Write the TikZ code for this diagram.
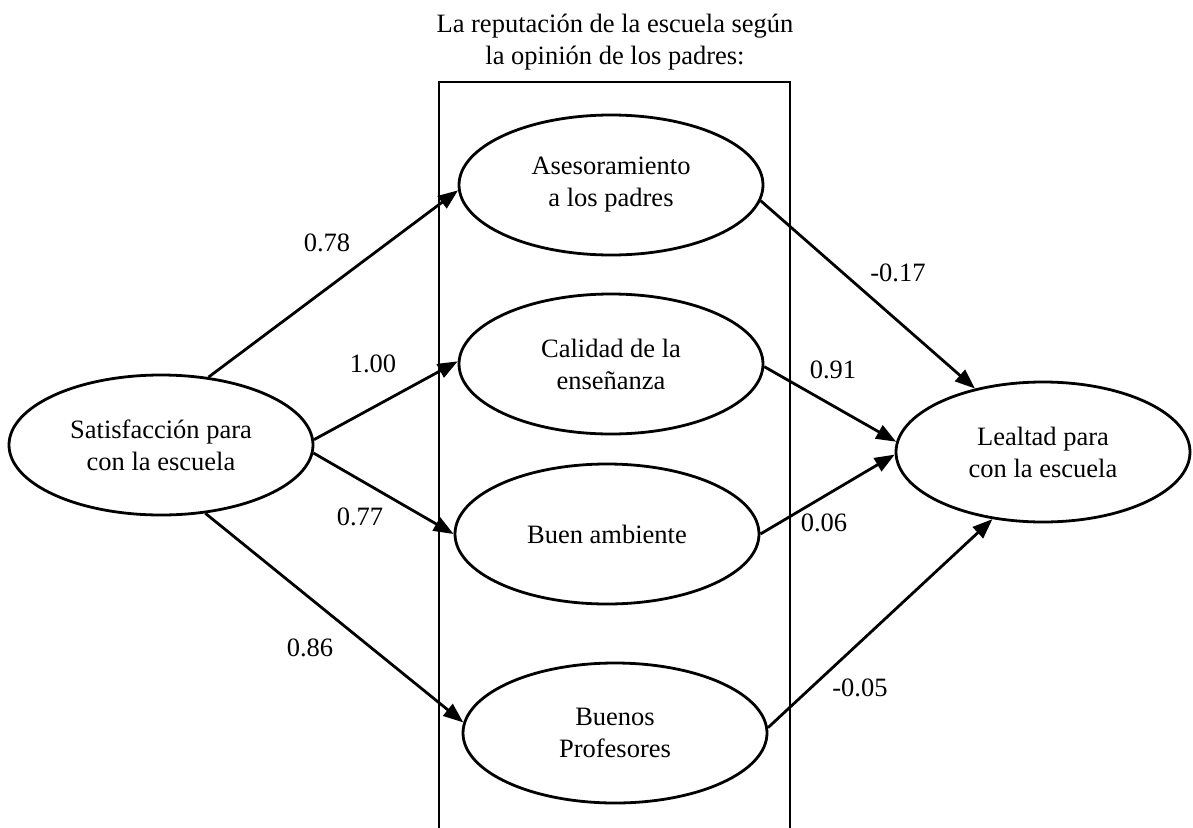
\documentclass[tikz,border=0pt]{standalone}
\usepackage{fontspec}
\setmainfont{Liberation Serif}
\usetikzlibrary{shapes.geometric,arrows.meta}
\begin{document}
\begin{tikzpicture}[x=1pt, y=-1pt,
		factor/.style={ellipse, draw, line width=2.8pt, minimum width=304pt, minimum height=140pt, inner sep=0pt, align=center, font=\fontsize{26.5}{32}\selectfont},
		effect/.style={-{Triangle[length=20pt,width=15pt]}, line width=2.8pt},
		coef/.style={font=\fontsize{26.5}{32}\selectfont, inner sep=0pt}]
	\useasboundingbox (0,0) rectangle (1193,827);
	\node[coef, align=center] (title) at (615,42) {La reputación de la escuela según\\la opinión de los padres:};
	\draw[line width=2.8pt] (439,830) -- (439,82) -- (790,82) -- (790,830);

	\node[factor] (sat) at (161,445) {Satisfacción para\\con la escuela};
	\node[factor] (ase) at (611,185) {Asesoramiento\\a los padres};
	\node[factor] (cal) at (611,364) {Calidad de la\\enseñanza};
	\node[factor] (amb) at (607,534) {Buen ambiente};
	\node[factor] (pro) at (615,733) {Buenos\\Profesores};
	\node[factor, minimum width=294pt] (leal) at (1043,452) {Lealtad para\\con la escuela};

	\draw[effect] (sat.55) -- (ase.182);
	\draw[effect] (sat.2) -- (cal.179);
	\draw[effect] (sat.-3) -- (amb.180);
	\draw[effect] (sat.-57) -- (pro.176);

	\draw[effect] (ase.-6) -- (leal.137);
	\draw[effect] (cal.-1) -- (leal.176);
	\draw[effect] (amb.0) -- (leal.181);
	\draw[effect] (pro.2) -- (leal.233);

	\node[coef] (c1) at (327,243) {0.78};
	\node[coef] (c2) at (373,364) {1.00};
	\node[coef] (c3) at (360,517) {0.77};
	\node[coef] (c4) at (310,648) {0.86};
	\node[coef] (c5) at (898,273) {-0.17};
	\node[coef] (c6) at (833,370) {0.91};
	\node[coef] (c7) at (824,523) {0.06};
	\node[coef] (c8) at (860,688) {-0.05};
\end{tikzpicture}
\end{document}
